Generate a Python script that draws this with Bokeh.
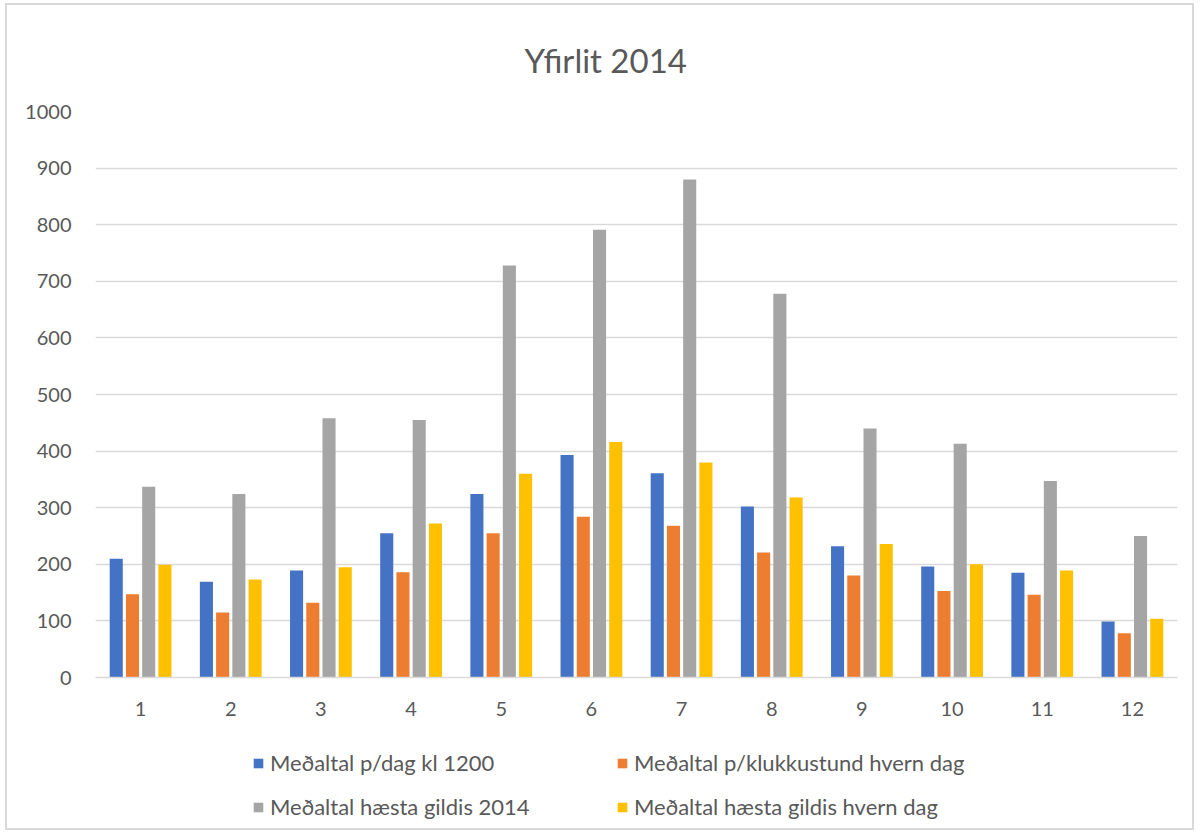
from bokeh.plotting import figure
from bokeh.layouts import column
from bokeh.models import FactorRange, Range1d, Legend, LegendItem, FixedTicker, ColumnDataSource
from bokeh.transform import dodge
from bokeh.embed import file_html
from bokeh.resources import INLINE

title = "Yfirlit 2014"
months = ["1", "2", "3", "4", "5", "6", "7", "8", "9", "10", "11", "12"]
series_names = [
    "Meðaltal p/dag kl 1200",
    "Meðaltal p/klukkustund hvern dag",
    "Meðaltal hæsta gildis 2014",
    "Meðaltal hæsta gildis hvern dag",
]
avg_noon = [210, 169, 189, 255, 324, 393, 361, 302, 232, 196, 185, 99]
avg_hourly = [147, 115, 132, 186, 255, 284, 268, 221, 180, 153, 146, 78]
avg_max_year = [337, 324, 458, 455, 728, 791, 880, 678, 440, 413, 347, 250]
avg_max_day = [199, 173, 195, 272, 360, 416, 380, 318, 236, 200, 189, 104]
y_ticks = [0, 100, 200, 300, 400, 500, 600, 700, 800, 900, 1000]

colors = ["#4472C4", "#ED7D31", "#A5A5A5", "#FFC000"]
TEXT = "#595959"
FONT = "Lato"

src = ColumnDataSource(dict(m=months, a=avg_noon, b=avg_hourly, c=avg_max_year, d=avg_max_day))
cols = ["a", "b", "c", "d"]
offsets = [-0.27, -0.09, 0.09, 0.27]

W = 1185
p = figure(
    width=W, height=717,
    x_range=FactorRange(factors=months, range_padding=0),
    y_range=Range1d(0, 1000),
    output_backend="svg", toolbar_location=None,
    min_border_left=88, min_border_right=15, min_border_top=105, min_border_bottom=45,
)
p.outline_line_color = None
p.background_fill_color = "white"
p.border_fill_color = "white"

p.title.text = title
p.title.align = "left"
p.title.offset = 429
p.title.standoff = 64
p.title.text_font = FONT
p.title.text_font_size = "33px"
p.title.text_font_style = "normal"
p.title.text_color = TEXT

for col, off, c in zip(cols, offsets, colors):
    p.vbar(x=dodge("m", off, range=p.x_range), top=col, width=0.145, source=src,
           fill_color=c, line_color=None)

p.xgrid.grid_line_color = None
p.ygrid.grid_line_color = "#D9D9D9"
p.ygrid.grid_line_width = 1.5
p.yaxis.ticker = FixedTicker(ticks=y_ticks)
p.yaxis.axis_line_color = None
p.yaxis.major_tick_line_color = None
p.yaxis.minor_tick_line_color = None
p.yaxis.major_label_text_font = FONT
p.yaxis.major_label_text_font_size = "20px"
p.yaxis.major_label_text_color = TEXT
p.yaxis.major_label_standoff = 18

p.xaxis.axis_line_color = "#D9D9D9"
p.xaxis.axis_line_width = 1.5
p.xaxis.major_tick_line_color = None
p.xaxis.minor_tick_line_color = None
p.xaxis.major_label_text_font = FONT
p.xaxis.major_label_text_font_size = "20px"
p.xaxis.major_label_text_color = TEXT
p.xaxis.major_label_standoff = 18

# legend strip below the chart (same series, drawn out of view, used as legend glyphs)
q = figure(width=W, height=106, output_backend="svg", toolbar_location=None,
           min_border_left=0, min_border_right=0, min_border_top=0, min_border_bottom=0,
           x_range=FactorRange(factors=months, range_padding=0), y_range=Range1d(5000, 6000))
q.axis.visible = False
q.grid.visible = False
q.outline_line_color = None
q.border_fill_color = "white"
proxies = [q.vbar(x=dodge("m", off, range=q.x_range), top=col, width=0.145, source=src,
                  fill_color=c, line_color=None)
           for col, off, c in zip(cols, offsets, colors)]

def make_legend(idx, loc):
    return Legend(items=[LegendItem(label=series_names[i], renderers=[proxies[i]]) for i in idx],
                  location=loc, orientation="vertical",
                  border_line_color=None, background_fill_alpha=0,
                  padding=0, margin=0, spacing=17,
                  glyph_width=12, glyph_height=12, label_height=26,
                  label_standoff=6, label_text_font=FONT, label_text_font_size="22px",
                  label_text_color=TEXT)

q.add_layout(make_legend([0, 2], (157, 8)), "center")
q.add_layout(make_legend([1, 3], (521, 8)), "center")

layout = column(p, q, spacing=0)
layout.styles = {"border": "2px solid #D9D9D9", "box-sizing": "border-box",
                 "margin-left": "5px", "margin-top": "3px"}

open("out.html", "w").write(file_html(layout, INLINE))
